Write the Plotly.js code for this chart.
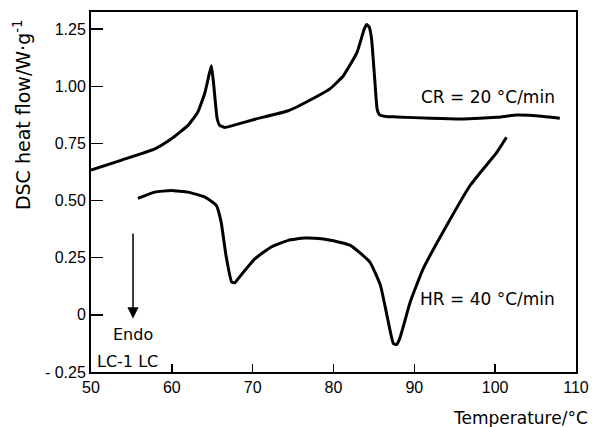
<!DOCTYPE html>
<html>
<head>
<meta charset="utf-8">
<script src="https://cdn.plot.ly/plotly-3.0.1.min.js"></script>
<style>html,body{margin:0;padding:0;background:#fff;}#chart{width:592px;height:427px;}</style>
</head>
<body>
<div id="chart"></div>
<script>
// Cooling run, CR = 20 °C/min
const crTemp = [50, 53.7, 57.9, 59.9, 62.0, 63.2, 64.1, 64.6, 64.9, 65.2, 65.6, 65.9, 66.5, 67.5, 70.3, 74.4, 77.7, 79.6, 81.2, 82.9, 83.8, 84.1, 84.4, 84.7, 85.1, 85.4, 85.7, 86.5, 87.8, 92.0, 96.1, 100.2, 102.7, 106.0, 108.0];
const crFlow = [0.633, 0.676, 0.726, 0.769, 0.829, 0.886, 0.973, 1.05, 1.09, 1.0, 0.86, 0.83, 0.82, 0.828, 0.856, 0.893, 0.951, 0.99, 1.045, 1.147, 1.25, 1.27, 1.26, 1.21, 1.03, 0.9, 0.875, 0.868, 0.866, 0.86, 0.857, 0.864, 0.874, 0.868, 0.86];
// Heating run, HR = 40 °C/min
const hrTemp = [55.8, 57.9, 59.9, 62.0, 64.1, 65.5, 66.1, 66.7, 67.4, 67.8, 68.2, 70.3, 72.3, 74.4, 76.4, 78.5, 80.6, 82.1, 84.5, 85.8, 86.6, 87.4, 87.8, 88.2, 89.5, 91.1, 94.0, 96.9, 100.2, 101.4];
const hrFlow = [0.51, 0.537, 0.544, 0.537, 0.515, 0.479, 0.406, 0.26, 0.144, 0.14, 0.158, 0.246, 0.297, 0.326, 0.336, 0.333, 0.319, 0.304, 0.231, 0.13, 0.0, -0.125, -0.13, -0.103, 0.057, 0.202, 0.391, 0.566, 0.711, 0.777];
// Axis ticks
const xTickVals = [50, 60, 70, 80, 90, 100, 110];
const xTickText = ["50", "60", "70", "80", "90", "100", "110"];
const yTickVals = [-0.25, 0, 0.25, 0.5, 0.75, 1.0, 1.25];
const yTickText = ["- 0.25", "0", "0.25", "0.50", "0.75", "1.00", "1.25"];

const FONT = "Liberation Sans, Arial, sans-serif";
const WFONT = "DejaVu Sans, sans-serif";
const lineStyle = {color: "#000", width: 3, shape: "spline", smoothing: 0.4};

const traces = [
  {x: crTemp, y: crFlow, type: "scatter", mode: "lines", line: lineStyle, hoverinfo: "skip"},
  {x: hrTemp, y: hrFlow, type: "scatter", mode: "lines", line: lineStyle, hoverinfo: "skip"}
];

const axisCommon = {
  showgrid: false, zeroline: false, showline: true, linecolor: "#000", linewidth: 2,
  mirror: true, ticks: "inside", tickcolor: "#000", tickwidth: 1.5,
  tickfont: {family: FONT, size: 16, color: "#000"}, tickmode: "array"
};

const layout = {
  width: 592, height: 427,
  margin: {l: 91, r: 16, t: 12, b: 55},
  paper_bgcolor: "#fff", plot_bgcolor: "#fff",
  showlegend: false,
  xaxis: Object.assign({}, axisCommon, {range: [50, 110], tickvals: xTickVals, ticktext: xTickText, ticklen: 8}),
  yaxis: Object.assign({}, axisCommon, {range: [-0.25, 1.325], tickvals: yTickVals, ticktext: yTickText, ticklen: 12}),
  annotations: [
    {x: 99.1, y: 0.951, xref: "x", yref: "y", text: "CR = 20 °C/min", showarrow: false,
     font: {family: WFONT, size: 17, color: "#000"}, xanchor: "center", yanchor: "middle"},
    {x: 99.1, y: 0.071, xref: "x", yref: "y", text: "HR = 40 °C/min", showarrow: false,
     font: {family: WFONT, size: 17, color: "#000"}, xanchor: "center", yanchor: "middle"},
    {x: 55.2, y: -0.087, xref: "x", yref: "y", text: "Endo", showarrow: false,
     font: {family: WFONT, size: 16, color: "#000"}, xanchor: "center", yanchor: "middle"},
    {x: 50.5, y: -0.205, xref: "x", yref: "y", text: "LC-1 LC", showarrow: false,
     font: {family: WFONT, size: 16, color: "#000"}, xanchor: "left", yanchor: "middle"},
    {x: 55.2, y: -0.016, xref: "x", yref: "y", ax: 55.2, ay: 0.362, axref: "x", ayref: "y",
     text: "", showarrow: true, arrowhead: 2, arrowsize: 1.5, arrowwidth: 1.5, arrowcolor: "#000"},
    {x: -0.142, y: 0.714, xref: "paper", yref: "paper", text: "DSC heat flow/W·g<sup>-1</sup>",
     textangle: -90, showarrow: false, font: {family: WFONT, size: 19, color: "#000"},
     xanchor: "center", yanchor: "middle"},
    {x: 1.029, y: -0.128, xref: "paper", yref: "paper", text: "Temperature/°C", showarrow: false,
     font: {family: WFONT, size: 17, color: "#000"}, xanchor: "right", yanchor: "middle"}
  ]
};

Plotly.newPlot("chart", traces, layout, {staticPlot: true, displayModeBar: false});
</script>
</body>
</html>
